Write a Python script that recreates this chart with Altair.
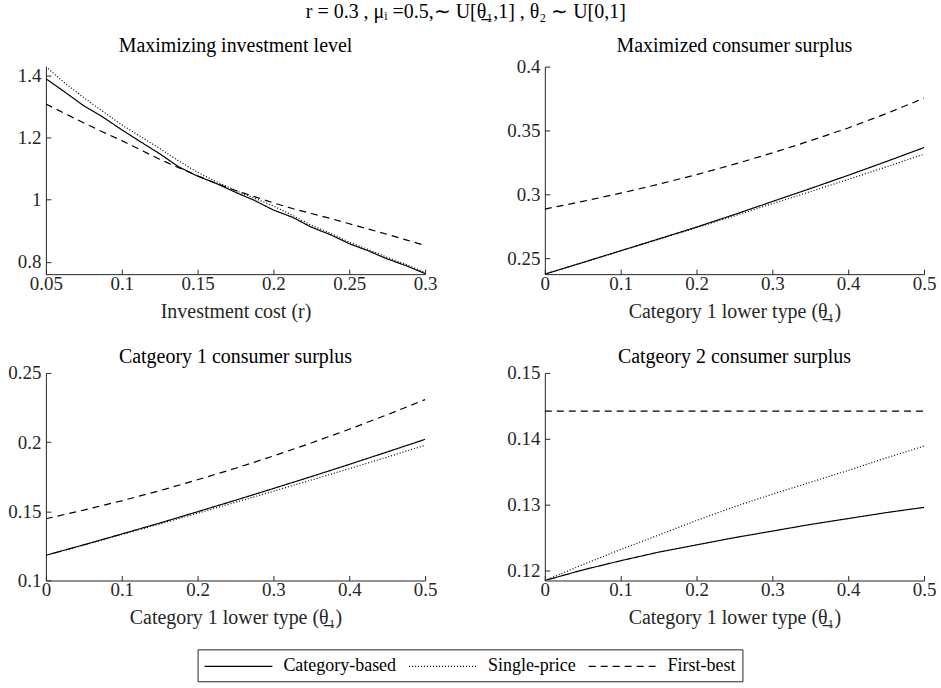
import altair as alt
import pandas as pd

SERIF = "Liberation Serif"
INK = "#262626"
SERIES = ["Category-based", "Single-price", "First-best"]
DASHES = [[1, 0], [1, 2], [7, 5]]

# Panel 1: investment level vs investment cost r
r_cost = [0.05, 0.0625, 0.075, 0.0875, 0.1, 0.1125, 0.125, 0.1375, 0.15, 0.1625,
          0.175, 0.1875, 0.2, 0.2125, 0.225, 0.2375, 0.25, 0.2625, 0.275, 0.2875, 0.3]
inv_category = [1.389, 1.346, 1.302, 1.266, 1.225, 1.186, 1.148, 1.106, 1.076, 1.052,
                1.024, 0.998, 0.967, 0.944, 0.912, 0.888, 0.859, 0.836, 0.810, 0.788, 0.763]
inv_single = [1.428, 1.375, 1.328, 1.284, 1.241, 1.203, 1.165, 1.125, 1.088, 1.058,
              1.030, 1.005, 0.980, 0.950, 0.918, 0.893, 0.864, 0.840, 0.815, 0.792, 0.766]
inv_first = [1.308, 1.277, 1.247, 1.218, 1.190, 1.160, 1.130, 1.103, 1.077, 1.052,
             1.030, 1.010, 0.990, 0.972, 0.956, 0.940, 0.923, 0.906, 0.889, 0.871, 0.853]

# Panels 2-4: vs category 1 lower type
theta_low = [0, 0.05, 0.1, 0.15, 0.2, 0.25, 0.3, 0.35, 0.4, 0.45, 0.5]
cs_category = [0.2377, 0.2468, 0.2560, 0.2652, 0.2745, 0.2843, 0.2945, 0.3046, 0.3150, 0.3257, 0.3367]
cs_single = [0.2377, 0.2467, 0.2558, 0.2649, 0.2740, 0.2833, 0.2928, 0.3022, 0.3118, 0.3215, 0.3315]
cs_first = [0.2886, 0.2946, 0.3010, 0.3080, 0.3155, 0.3237, 0.3325, 0.3420, 0.3520, 0.3632, 0.3753]

cs1_category = [0.1182, 0.1258, 0.1336, 0.1415, 0.1497, 0.1580, 0.1665, 0.1751, 0.1839, 0.1929, 0.2020]
cs1_single = [0.1182, 0.1256, 0.1332, 0.1408, 0.1486, 0.1565, 0.1645, 0.1726, 0.1808, 0.1892, 0.1977]
cs1_first = [0.1446, 0.1509, 0.1576, 0.1649, 0.1728, 0.1811, 0.1900, 0.1994, 0.2093, 0.2198, 0.2307]

cs2_category = [0.1185, 0.1201, 0.1215, 0.1228, 0.1239, 0.1250, 0.1260, 0.1270, 0.1279, 0.1288, 0.1296]
cs2_single = [0.1185, 0.1209, 0.1232, 0.1254, 0.1276, 0.1297, 0.1316, 0.1334, 0.1352, 0.1371, 0.1389]
cs2_first = [0.1442, 0.1442, 0.1442, 0.1442, 0.1442, 0.1442, 0.1442, 0.1442, 0.1442, 0.1442, 0.1442]

W, H = 380, 208
THETA_TITLE = "Category 1 lower type (θ̲₁)"


def panel(xs, series_values, title, title_offset, title_dy, xtitle, xdom, xticks, ydom, yticks):
    rows = []
    for name, ys in zip(SERIES, series_values):
        rows += [{"x": x, "y": y, "series": name} for x, y in zip(xs, ys)]
    df = pd.DataFrame(rows)
    xsc = alt.Scale(domain=xdom, nice=False, zero=False)
    ysc = alt.Scale(domain=ydom, nice=False, zero=False)
    lines = alt.Chart(df).mark_line(color="black", strokeWidth=1.2, clip=True).encode(
        x=alt.X("x:Q", scale=xsc,
                axis=alt.Axis(values=xticks, format="~g", title=xtitle, ticks=False, tickSize=0,
                              labelFlush=False, labelOverlap=False, labelPadding=0, titlePadding=8)),
        y=alt.Y("y:Q", scale=ysc,
                axis=alt.Axis(values=yticks, format="~g", title=None, ticks=False, tickSize=0,
                              labelOverlap=False, labelPadding=5)),
        strokeDash=alt.StrokeDash("series:N", scale=alt.Scale(domain=SERIES, range=DASHES),
                                  legend=alt.Legend(title=None)),
    )
    tick_layer = alt.Chart(df).mark_point(opacity=0).encode(
        x=alt.X("x:Q", scale=xsc,
                axis=alt.Axis(orient="top", offset=-H, values=xticks, labels=False, domain=False,
                              tickSize=5, title=None)),
        y=alt.Y("y:Q", scale=ysc,
                axis=alt.Axis(orient="right", offset=-W, values=yticks, labels=False, domain=False,
                              tickSize=5, title=None)),
    )
    return alt.layer(lines, tick_layer).resolve_axis(x="independent", y="independent").properties(
        width=W, height=H,
        title=alt.Title(title, frame="group", offset=title_offset, dy=title_dy))


p1 = panel(r_cost, [inv_category, inv_single, inv_first], "Maximizing investment level", 8, 0,
           "Investment cost (r)", [0.05, 0.3], [0.05, 0.1, 0.15, 0.2, 0.25, 0.3],
           [0.761, 1.428], [0.8, 1.0, 1.2, 1.4])
p2 = panel(theta_low, [cs_category, cs_single, cs_first], "Maximized consumer surplus", 2, 0,
           THETA_TITLE, [0, 0.5], [0, 0.1, 0.2, 0.3, 0.4, 0.5],
           [0.2377, 0.4], [0.25, 0.3, 0.35, 0.4])
p3 = panel(theta_low, [cs1_category, cs1_single, cs1_first], "Catgeory 1 consumer surplus", 0, 3,
           THETA_TITLE, [0, 0.5], [0, 0.1, 0.2, 0.3, 0.4, 0.5],
           [0.1, 0.25], [0.1, 0.15, 0.2, 0.25])
p4 = panel(theta_low, [cs2_category, cs2_single, cs2_first], "Catgeory 2 consumer surplus", 0, 3,
           THETA_TITLE, [0, 0.5], [0, 0.1, 0.2, 0.3, 0.4, 0.5],
           [0.1185, 0.15], [0.12, 0.13, 0.14, 0.15])

chart = alt.concat(p1, p2, p3, p4, columns=2, spacing={"row": 99, "column": 120},
                   bounds="flush").properties(
    title=alt.Title("r = 0.3 , μᵢ =0.5,∼ U[θ̲₁,1] , θ₂ ∼ U[0,1]", anchor="middle", frame="bounds",
                    fontSize=20, offset=14, dx=-6),
    padding={"left": 7, "top": 1, "right": 5, "bottom": 5},
).configure_view(stroke=None).configure_axis(
    grid=False, labelFont=SERIF, labelFontSize=19, labelColor=INK, titleFont=SERIF,
    titleFontSize=20, titleFontWeight="normal", titleColor=INK, domainColor=INK,
    tickColor=INK, domainWidth=1, tickWidth=1,
).configure_title(
    font=SERIF, fontSize=20, fontWeight="normal", color="black",
).configure_legend(
    orient="none", legendX=152, legendY=584, direction="horizontal", columns=3,
    strokeColor=INK, fillColor="white", padding=6, symbolType="M-1,0H5.8", symbolSize=400,
    symbolStrokeWidth=1.2, symbolStrokeColor="black", symbolFillColor="transparent",
    labelFont=SERIF, labelFontSize=18, labelColor="black", labelOffset=58, columnPadding=10,
)

chart.save("out.html", embed_options={"renderer": "svg", "actions": False})
